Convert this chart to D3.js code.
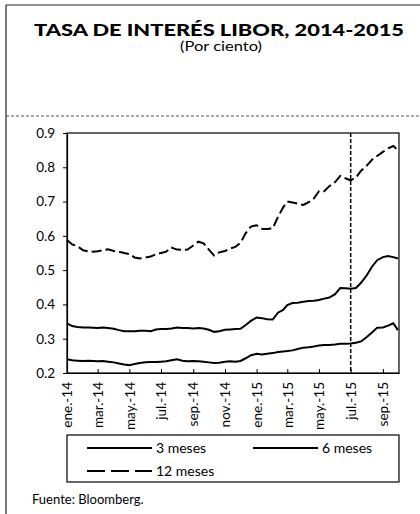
<!DOCTYPE html>
<html>
<head>
<meta charset="utf-8">
<script src="https://cdn.jsdelivr.net/npm/d3@7"></script>
<style>
  body { margin: 0; background: #fff; }
  svg { display: block; font-family: "Lato", "Open Sans", sans-serif; }
</style>
</head>
<body>
<script>
// observation dates (every ~10 days)
var dates = [
  "2014-01-01","2014-01-11","2014-01-21","2014-02-01","2014-02-11","2014-02-21",
  "2014-03-01","2014-03-11","2014-03-21","2014-04-01","2014-04-11","2014-04-21",
  "2014-05-01","2014-05-11","2014-05-21","2014-06-01","2014-06-11","2014-06-21",
  "2014-07-01","2014-07-11","2014-07-21","2014-08-01","2014-08-11","2014-08-21",
  "2014-09-01","2014-09-11","2014-09-21","2014-10-01","2014-10-11","2014-10-21",
  "2014-11-01","2014-11-11","2014-11-21","2014-12-01","2014-12-11","2014-12-21",
  "2015-01-01","2015-01-11","2015-01-21","2015-02-01","2015-02-11","2015-02-21",
  "2015-03-01","2015-03-11","2015-03-21","2015-04-01","2015-04-11","2015-04-21",
  "2015-05-01","2015-05-11","2015-05-21","2015-06-01","2015-06-11","2015-06-21",
  "2015-07-01","2015-07-11","2015-07-21","2015-08-01","2015-08-11","2015-08-21",
  "2015-09-01","2015-09-11","2015-09-21","2015-09-30"
];

var tres = [
  0.240,0.237,0.236,0.235,0.236,0.235,0.234,0.235,0.233,0.231,0.228,0.225,
  0.223,0.226,0.229,0.231,0.232,0.232,0.233,0.234,0.237,0.240,0.236,0.234,
  0.235,0.234,0.233,0.231,0.229,0.230,0.233,0.234,0.233,0.235,0.243,0.252,
  0.256,0.254,0.256,0.258,0.261,0.263,0.264,0.266,0.270,0.274,0.275,0.277,
  0.280,0.282,0.282,0.283,0.285,0.285,0.286,0.288,0.292,0.305,0.318,0.332,
  0.333,0.338,0.345,0.325
];

var seis = [
  0.345,0.337,0.334,0.333,0.333,0.332,0.331,0.333,0.331,0.329,0.325,0.322,
  0.322,0.322,0.323,0.323,0.322,0.327,0.328,0.328,0.330,0.333,0.331,0.331,
  0.330,0.331,0.330,0.326,0.320,0.322,0.326,0.327,0.328,0.329,0.340,0.352,
  0.362,0.360,0.357,0.356,0.376,0.384,0.398,0.404,0.405,0.408,0.410,0.411,
  0.413,0.417,0.420,0.430,0.448,0.447,0.446,0.448,0.463,0.485,0.510,0.529,
  0.538,0.541,0.538,0.534
];

var doce = [
  0.588,0.575,0.570,0.558,0.555,0.554,0.555,0.558,0.561,0.556,0.554,0.550,
  0.547,0.537,0.534,0.537,0.540,0.546,0.550,0.554,0.566,0.560,0.559,0.560,
  0.572,0.583,0.578,0.560,0.543,0.552,0.556,0.563,0.568,0.580,0.608,0.627,
  0.631,0.621,0.620,0.622,0.655,0.683,0.700,0.697,0.694,0.690,0.698,0.709,
  0.730,0.730,0.745,0.757,0.775,0.768,0.762,0.770,0.790,0.805,0.822,0.833,
  0.845,0.855,0.862,0.850
];

var tickDates = ["2014-01-01","2014-03-01","2014-05-01","2014-07-01","2014-09-01","2014-11-01",
                 "2015-01-01","2015-03-01","2015-05-01","2015-07-01","2015-09-01"];
var tickLabels = ["ene.-14","mar.-14","may.-14","jul.-14","sep.-14","nov.-14",
                  "ene.-15","mar.-15","may.-15","jul.-15","sep.-15"];
var yTicks = [0.2, 0.3, 0.4, 0.5, 0.6, 0.7, 0.8, 0.9];
var markerDate = "2015-07-01";

var seriesNames = ["3 meses", "6 meses", "12 meses"];

var parse = d3.timeParse("%Y-%m-%d");
var W = 420, H = 514;
var plotL = 67, plotR = 399, plotT = 133, plotB = 373;

var svg = d3.select("body").append("svg")
    .attr("width", W)
    .attr("height", H);

// outer frame
svg.append("line").attr("x1", 6).attr("x2", 6).attr("y1", 5).attr("y2", H)
    .attr("stroke", "#222").attr("stroke-width", 1.2);
svg.append("line").attr("x1", 6).attr("x2", W).attr("y1", 5).attr("y2", 5)
    .attr("stroke", "#222").attr("stroke-width", 1.2);
svg.append("line").attr("x1", 6).attr("x2", W).attr("y1", 116).attr("y2", 116)
    .attr("stroke", "#555").attr("stroke-width", 1).attr("stroke-dasharray", "3,2");

// title
svg.append("text")
    .attr("x", 219).attr("y", 36)
    .attr("text-anchor", "middle")
    .attr("font-size", 16)
    .attr("font-weight", 900)
    .attr("textLength", 370)
    .attr("lengthAdjust", "spacingAndGlyphs")
    .text("TASA DE INTERÉS LIBOR, 2014-2015");
svg.append("text")
    .attr("x", 221).attr("y", 51)
    .attr("text-anchor", "middle")
    .attr("font-size", 13)
    .attr("textLength", 82)
    .attr("lengthAdjust", "spacingAndGlyphs")
    .text("(Por ciento)");

var x = d3.scaleTime()
    .domain([parse("2014-01-01"), parse("2015-10-02")])
    .range([plotL, plotR]);
var y = d3.scaleLinear()
    .domain([0.2, 0.9])
    .range([plotB, plotT]);

// plot frame
svg.append("rect")
    .attr("x", plotL).attr("y", plotT)
    .attr("width", plotR - plotL).attr("height", plotB - plotT)
    .attr("fill", "none").attr("stroke", "#000").attr("stroke-width", 1.2);

// y axis
var yAxis = svg.append("g")
    .attr("transform", "translate(" + plotL + ",0)")
    .call(d3.axisLeft(y).tickValues(yTicks).tickSize(4).tickFormat(d3.format(".1f")));
yAxis.select(".domain").attr("stroke-width", 1.2);
yAxis.selectAll("text").attr("font-size", 13.5).attr("font-family", "Lato, sans-serif")
    .attr("fill", "#000").attr("x", -12);

// x axis
var xAxis = svg.append("g")
    .attr("transform", "translate(0," + plotB + ")")
    .call(d3.axisBottom(x)
        .tickValues(tickDates.map(parse))
        .tickSizeInner(-4)
        .tickSizeOuter(0)
        .tickFormat(function(d, i) { return tickLabels[i]; }));
xAxis.select(".domain").attr("stroke-width", 1.2);
xAxis.selectAll("text")
    .attr("font-size", 13.5)
    .attr("font-family", "Lato, sans-serif")
    .attr("fill", "#000")
    .attr("transform", "rotate(-90)")
    .attr("text-anchor", "end")
    .attr("x", -9)
    .attr("y", 0)
    .attr("dy", "0.35em");

// series lines
var rows = dates.map(function(d, i) {
    return {date: parse(d), v3: tres[i], v6: seis[i], v12: doce[i]};
});

function lineFor(key) {
    return d3.line()
        .x(function(d) { return x(d.date); })
        .y(function(d) { return y(d[key]); });
}

svg.append("path").datum(rows)
    .attr("d", lineFor("v3"))
    .attr("fill", "none").attr("stroke", "#000").attr("stroke-width", 2);
svg.append("path").datum(rows)
    .attr("d", lineFor("v6"))
    .attr("fill", "none").attr("stroke", "#000").attr("stroke-width", 2);
svg.append("path").datum(rows)
    .attr("d", lineFor("v12"))
    .attr("fill", "none").attr("stroke", "#000").attr("stroke-width", 2)
    .attr("stroke-dasharray", "10,4");

// vertical marker
svg.append("line")
    .attr("x1", x(parse(markerDate))).attr("x2", x(parse(markerDate)))
    .attr("y1", plotT).attr("y2", plotB)
    .attr("stroke", "#000").attr("stroke-width", 1.5)
    .attr("stroke-dasharray", "4,2");

// legend
var legend = svg.append("g");
legend.append("rect")
    .attr("x", 67).attr("y", 435).attr("width", 332).attr("height", 47)
    .attr("fill", "none").attr("stroke", "#000").attr("stroke-width", 1.2);

var legendItems = [
    {name: seriesNames[0], x: 87, y: 448, dash: null},
    {name: seriesNames[1], x: 253, y: 448, dash: null},
    {name: seriesNames[2], x: 87, y: 471, dash: "18,6"}
];
legendItems.forEach(function(it) {
    legend.append("line")
        .attr("x1", it.x).attr("x2", it.x + 65)
        .attr("y1", it.y).attr("y2", it.y)
        .attr("stroke", "#000").attr("stroke-width", 2)
        .attr("stroke-dasharray", it.dash);
    legend.append("text")
        .attr("x", it.x + 69).attr("y", it.y)
        .attr("dy", "0.35em")
        .attr("font-size", 14)
        .text(it.name);
});

// source
svg.append("text")
    .attr("x", 32).attr("y", 504)
    .attr("font-size", 13)
    .text("Fuente: Bloomberg.");
</script>
</body>
</html>
